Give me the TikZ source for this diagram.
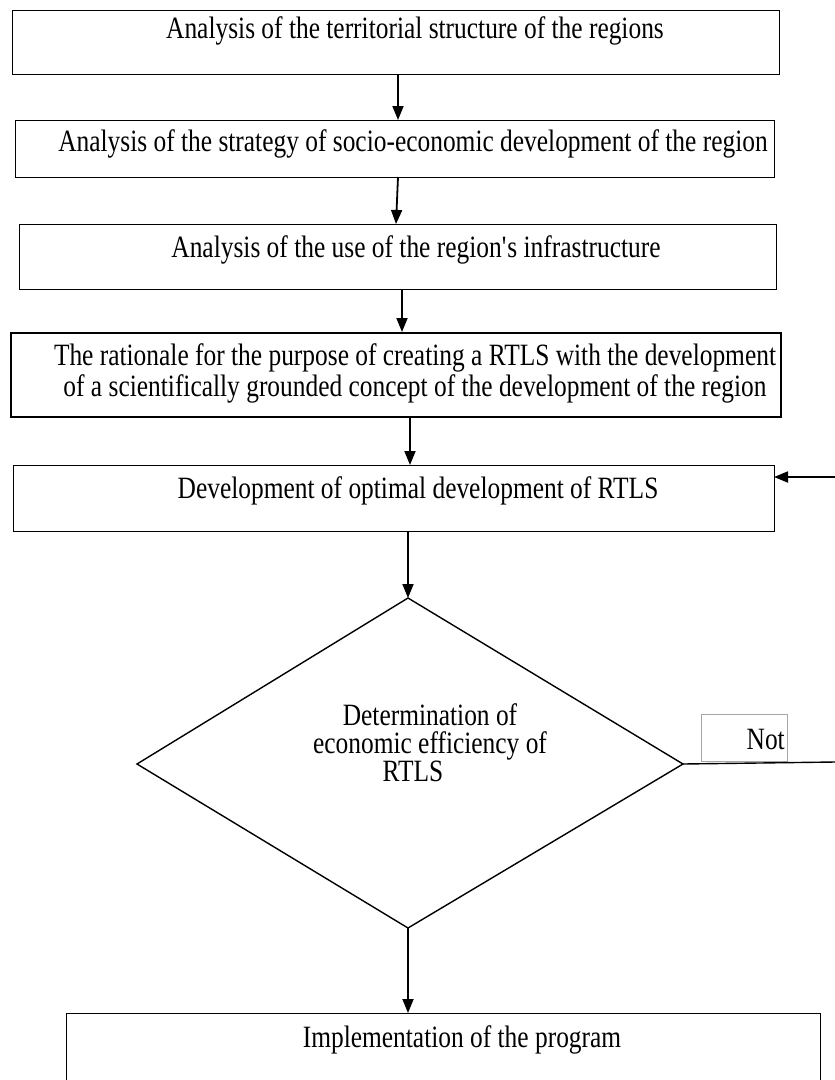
\documentclass[tikz,border=0pt]{standalone}
\usepackage{fontspec}
\setmainfont[FakeStretch=0.82]{Liberation Serif}
\usetikzlibrary{arrows.meta}
\begin{document}
\begin{tikzpicture}[x=1pt,y=-1pt,
  box/.style={draw=black,line width=1.2pt,inner sep=0pt,anchor=north west},
  thickbox/.style={box,line width=2.4pt},
  txt/.style={inner sep=0pt,font=\fontsize{31}{31}\selectfont,align=center,anchor=base},
  arr/.style={line width=1.8pt,-{Triangle[length=14pt,width=11pt]}},
  plain/.style={line width=1.4pt}]
\useasboundingbox (0,0) rectangle (835,1080);
% boxes
\node[box,minimum width=767pt,minimum height=64pt] (b1) at (12,10) {};
\node[box,minimum width=759pt,minimum height=57pt] (b2) at (15,120) {};
\node[box,minimum width=757pt,minimum height=65pt] (b3) at (19,224) {};
\node[thickbox,minimum width=770pt,minimum height=84pt] (b4) at (10,332) {};
\node[box,minimum width=761pt,minimum height=66pt] (b5) at (13,465) {};
\node[box,minimum width=754pt,minimum height=80pt] (b6) at (66,1013) {};
% texts
\node[txt] (t1) at (415,38) {Analysis of the territorial structure of the regions};
\node[txt] (t2) at (413,151) {Analysis of the strategy of socio-economic development of the region};
\node[txt] (t3) at (416,257) {Analysis of the use of the region\textquotesingle s infrastructure};
\node[txt] (t4) at (415,396) {The rationale for the purpose of creating a RTLS with the development\\of a scientifically grounded concept of the development of the region};
\node[txt] (t5) at (418,498) {Development of optimal development of RTLS};
\node[txt] (t6) at (462,1047) {Implementation of the program};
% diamond
\coordinate (dt) at (408,598);
\coordinate (dl) at (137,764);
\coordinate (dr) at (683,764);
\coordinate (db) at (408,928);
\draw[plain] (dt) -- (dr) -- (db) -- (dl) -- cycle;
\node[txt,font=\fontsize{31}{28}\selectfont] (dtext) at (430,781) {Determination of\\economic efficiency of\\RTLS\hspace*{34pt}};
% Not label box
\node[draw=gray!70,line width=1.4pt,inner sep=0pt,minimum width=86pt,minimum height=47pt,anchor=south west] (nb) at (701,762) {};
\node[txt,anchor=base east] (nt) at (785,749) {Not};
\coordinate (rend) at (835,762);
\draw[plain] (dr) -- (rend);
% arrows
\draw[arr] (398,74) -- (398,120);
\draw[arr] (398,177) -- (396,224);
\draw[arr] (402,289) -- (402,332);
\draw[arr] (410,416) -- (410,465);
\draw[arr] (408,531) -- (dt);
\draw[arr] (db) -- (408,1013);
\coordinate (fb) at (835,477);
\draw[arr] (fb) -- (774,477);
\end{tikzpicture}
\end{document}
